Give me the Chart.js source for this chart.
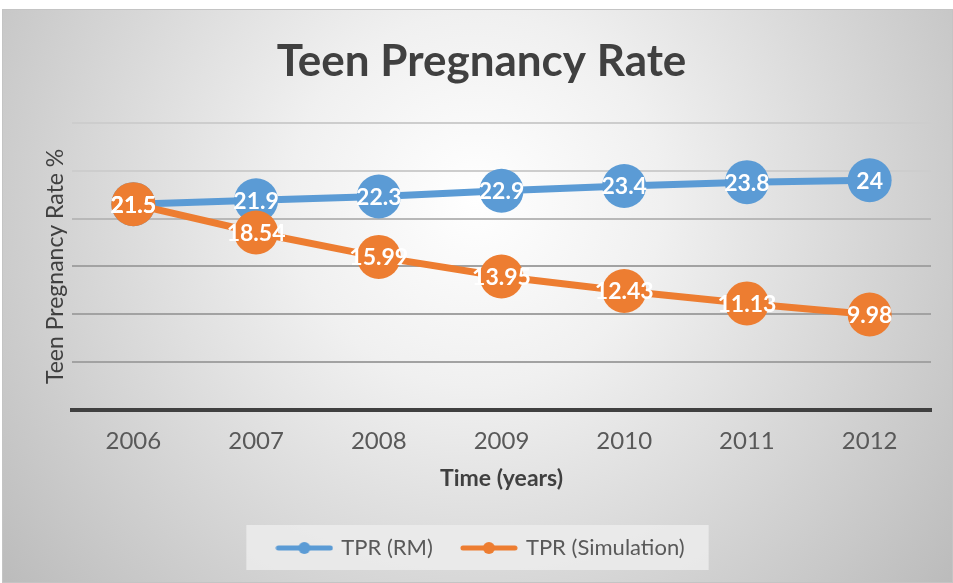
<!DOCTYPE html>
<html>
<head>
<meta charset="utf-8">
<title>Teen Pregnancy Rate</title>
<script src="https://cdn.jsdelivr.net/npm/chart.js@4.4.1/dist/chart.umd.min.js"></script>
<style>
  html, body { margin: 0; padding: 0; background: #fff; }
  #wrap { width: 953px; height: 583px; }
</style>
</head>
<body>
<div id="wrap"><canvas id="tprChart" width="953" height="583"></canvas></div>
<script>
// chart data
var years = ['2006', '2007', '2008', '2009', '2010', '2011', '2012'];
var tprRM = [21.5, 21.9, 22.3, 22.9, 23.4, 23.8, 24];
var tprSim = [21.5, 18.54, 15.99, 13.95, 12.43, 11.13, 9.98];
var yMin = 0, yMax = 30, yStep = 5;

var FONT = 'Lato, "Open Sans", sans-serif';
var BLUE = '#5b9bd5', ORANGE = '#ed7d31';

// legend icon: line with a dot in the middle
function legendIcon(color){
  var c = document.createElement('canvas'); c.width = 58; c.height = 16;
  var g = c.getContext('2d');
  g.strokeStyle = color; g.lineWidth = 5; g.lineCap = 'round';
  g.beginPath(); g.moveTo(3, 8); g.lineTo(55, 8); g.stroke();
  g.fillStyle = color; g.beginPath(); g.arc(29, 8, 6, 0, Math.PI*2); g.fill();
  return c;
}
var icons = [legendIcon(BLUE), legendIcon(ORANGE)];

// card background + legend box
var backdrop = {
  id: 'backdrop',
  beforeDraw: function(chart){
    var ctx = chart.ctx, w = chart.width, h = chart.height;
    ctx.save();
    ctx.fillStyle = '#fff'; ctx.fillRect(0, 0, w, h);
    var gr = ctx.createRadialGradient(476, 200, 0, 476, 200, 620);
    gr.addColorStop(0, '#ffffff');
    gr.addColorStop(0.3, '#f0f0f0');
    gr.addColorStop(1, '#bababa');
    ctx.fillStyle = gr; ctx.fillRect(2, 9, w - 2, h - 9);
    ctx.strokeStyle = '#c4c4c4'; ctx.lineWidth = 1; ctx.strokeRect(2.5, 9.5, w - 3, h - 10);
    var lg = chart.legend;
    if (lg && lg.legendHitBoxes && lg.legendHitBoxes.length){
      var hb = lg.legendHitBoxes, first = hb[0], last = hb[hb.length-1];
      var l = first.left - 32, r = last.left + last.width + 24;
      var cy = first.top + first.height/2;
      ctx.fillStyle = 'rgba(236,236,236,0.85)';
      ctx.fillRect(l, cy - 23, r - l, 45);
    }
    ctx.restore();
  }
};

// value labels centred on the markers
var pointLabels = {
  id: 'pointLabels',
  afterDatasetsDraw: function(chart){
    var ctx = chart.ctx;
    ctx.save();
    ctx.font = 'bold 23px ' + FONT;
    ctx.fillStyle = '#ffffff';
    ctx.textAlign = 'center'; ctx.textBaseline = 'middle';
    [0, 1].forEach(function(di){
      var meta = chart.getDatasetMeta(di);
      var vals = chart.data.datasets[di].data;
      meta.data.forEach(function(pt, i){ ctx.fillText(String(vals[i]), pt.x, pt.y + 1); });
    });
    ctx.restore();
  }
};

new Chart(document.getElementById('tprChart'), {
  type: 'line',
  data: {
    labels: years,
    datasets: [
      { label: 'TPR (RM)', data: tprRM, borderColor: BLUE, backgroundColor: BLUE,
        borderWidth: 7, pointRadius: 22, pointHoverRadius: 22, pointBorderWidth: 0, order: 1 },
      { label: 'TPR (Simulation)', data: tprSim, borderColor: ORANGE, backgroundColor: ORANGE,
        borderWidth: 7, pointRadius: 22, pointHoverRadius: 22, pointBorderWidth: 0, order: 0 }
    ]
  },
  options: {
    responsive: false,
    animation: false,
    events: [],
    layout: { padding: { left: 30, right: 20, top: 9, bottom: 14 } },
    plugins: {
      tooltip: { enabled: false },
      title: {
        display: true, text: 'Teen Pregnancy Rate', color: '#404040',
        font: { family: FONT, size: 44, weight: 'bold' },
        padding: { top: 26, bottom: 35 }
      },
      legend: {
        position: 'bottom',
        labels: {
          usePointStyle: true, pointStyleWidth: 52, boxHeight: 16, padding: 30,
          color: '#595959', font: { family: FONT, size: 22 },
          sort: function(a, b){ return a.datasetIndex - b.datasetIndex; },
          generateLabels: function(chart){
            var items = Chart.defaults.plugins.legend.labels.generateLabels(chart);
            items.forEach(function(it){ it.pointStyle = icons[it.datasetIndex]; });
            return items;
          }
        }
      }
    },
    scales: {
      x: {
        offset: true,
        grid: { display: false, drawTicks: false },
        border: { display: true, color: '#404040', width: 4 },
        ticks: { color: '#595959', padding: 17, font: { family: FONT, size: 24 } },
        title: { display: true, text: 'Time (years)', color: '#404040',
                 font: { family: FONT, size: 23, weight: 'bold' }, padding: { top: 0, bottom: 15 } },
        afterFit: function(s){ s.height = 97; }
      },
      y: {
        min: yMin, max: yMax,
        ticks: { display: false, stepSize: yStep },
        grid: {
          drawTicks: false, lineWidth: 2,
          color: function(c){ var v = c.tick ? c.tick.value : 0; return v >= 25 ? '#cdcdcd' : (v >= 20 ? '#b8b8b8' : '#a2a2a2'); }
        },
        border: { display: false },
        title: { display: true, text: 'Teen Pregnancy Rate %', color: '#404040',
                 font: { family: FONT, size: 23 }, padding: { top: 12, bottom: 0 } },
        afterFit: function(s){ s.width = 42; }
      }
    }
  },
  plugins: [backdrop, pointLabels]
});
</script>
</body>
</html>
